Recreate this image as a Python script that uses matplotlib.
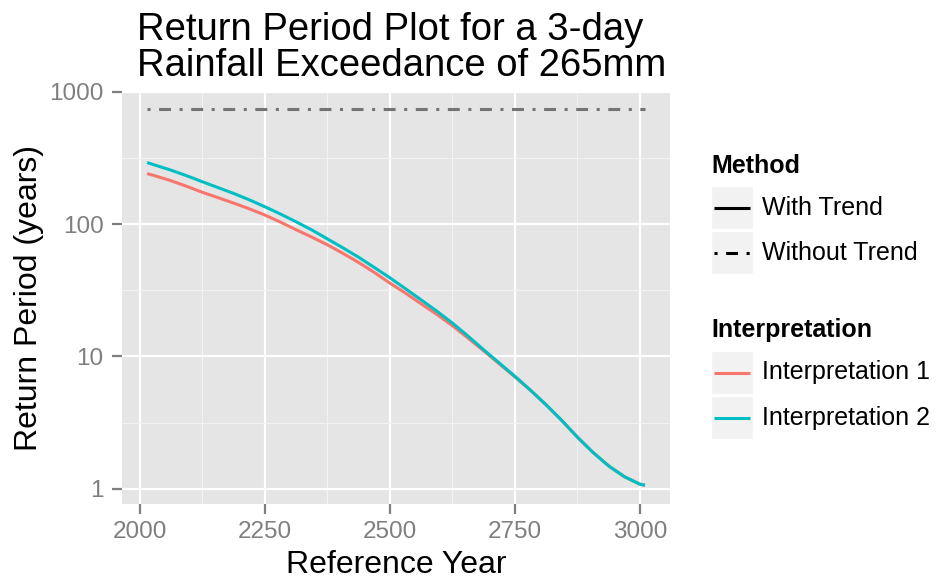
import matplotlib
matplotlib.use("Agg")
import matplotlib.pyplot as plt
from matplotlib.patches import Rectangle
from matplotlib.lines import Line2D
from matplotlib.ticker import FixedLocator, NullFormatter

plt.rcParams['font.family'] = ['Liberation Sans', 'DejaVu Sans']

# Reference years at which the return periods were evaluated
years = [2015, 2031, 2062, 2094, 2125, 2156, 2188, 2219, 2250, 2281,
         2312, 2344, 2375, 2406, 2438, 2469, 2500, 2531, 2562, 2594,
         2625, 2656, 2688, 2719, 2750, 2781, 2812, 2844, 2875, 2906,
         2938, 2969, 3000, 3010]

# Return period (years) with trend, for the two interpretations
interp1 = [241.5, 232.3, 213.8, 193.6, 174.6, 159.2, 144.5, 130.9, 117.5, 104.0,
           91.2, 80.0, 70.0, 60.3, 51.3, 43.2, 35.9, 30.2, 25.1, 20.8,
           17.1, 13.8, 11.0, 8.77, 7.0, 5.56, 4.32, 3.27, 2.45, 1.88,
           1.48, 1.23, 1.08, 1.06]
interp2 = [292.4, 279.9, 257.0, 232.8, 209.9, 189.7, 171.0, 153.1, 135.8, 119.7,
           104.7, 90.6, 77.6, 66.4, 56.2, 47.1, 39.4, 32.6, 26.9, 22.0,
           17.9, 14.3, 11.2, 8.91, 7.08, 5.56, 4.32, 3.27, 2.45, 1.88,
           1.48, 1.23, 1.08, 1.06]

# Stationary (no trend) return period
no_trend_value = 750.0
no_trend_years = [2015, 3010]

x_ticks = [2000, 2250, 2500, 2750, 3000]
y_ticks = [1, 10, 100, 1000]
y_tick_labels = ["1", "10", "100", "1000"]

RED = "#F8766D"
CYAN = "#00BFC4"
GREY_LINE = "#747474"
TICK_GREY = "#7F7F7F"

W, H = 938, 582
fig = plt.figure(figsize=(W / 100, H / 100), dpi=100)


def fx(px):
    return px / W


def fy(py):
    return 1 - py / H


# panel
left, right, top, bottom = 122, 670, 92, 504
ax = fig.add_axes([fx(left), fy(bottom), fx(right - left), (bottom - top) / H])
ax.set_facecolor("#E5E5E5")
ax.set_yscale("log")
ax.set_xlim(1965, 3060)
ax.set_ylim(0.765, 1000)

for s in ax.spines.values():
    s.set_visible(False)

# grid
ax.xaxis.set_major_locator(FixedLocator(x_ticks))
ax.xaxis.set_minor_locator(FixedLocator([2125, 2375, 2625, 2875]))
ax.yaxis.set_major_locator(FixedLocator(y_ticks))
ax.yaxis.set_minor_locator(FixedLocator([10 ** 0.5, 10 ** 1.5, 10 ** 2.5]))
ax.yaxis.set_minor_formatter(NullFormatter())
ax.set_yticklabels(y_tick_labels)
ax.set_xticklabels([str(v) for v in x_ticks])
ax.grid(which="major", color="white", linewidth=1.6)
ax.grid(which="minor", color="#F2F2F2", linewidth=0.8)
ax.set_axisbelow(True)

ax.tick_params(which="major", length=7.2, width=1.6, color=TICK_GREY,
               labelcolor=TICK_GREY, labelsize=17.5)
ax.tick_params(axis="x", pad=5)
ax.tick_params(axis="y", pad=6)
ax.tick_params(which="minor", length=0)

LW = 2.2
dash_pattern = (0, (1.0, 2.8, 3.9, 2.8))

ax.plot(no_trend_years, [no_trend_value, no_trend_value], color=GREY_LINE,
        linewidth=LW, linestyle=dash_pattern, dash_capstyle="butt")
ax.plot(years, interp1, color=RED, linewidth=LW, solid_capstyle="butt",
        solid_joinstyle="round")
ax.plot(years, interp2, color=CYAN, linewidth=LW, solid_capstyle="butt",
        solid_joinstyle="round")

ax.set_xlabel("Reference Year", fontsize=23, labelpad=5)
ax.set_ylabel("Return Period (years)", fontsize=23, labelpad=4)

# title, two lines sharing a left edge
title_x = fx(137)
fig.text(title_x, fy(40), "Return Period Plot for a 3-day", ha="left",
         va="baseline", fontsize=27.5)
fig.text(title_x, fy(76), "Rainfall Exceedance of 265mm", ha="left",
         va="baseline", fontsize=27.5)

# legends
def key_box(y0, y1):
    fig.add_artist(Rectangle((fx(711), fy(y1)), fx(753) - fx(711), (y1 - y0) / H,
                             transform=fig.transFigure, facecolor="#F2F2F2",
                             edgecolor="white", linewidth=1.0))


def key_line(yc, color, style="-"):
    fig.add_artist(Line2D([fx(714), fx(750)], [fy(yc), fy(yc)],
                          transform=fig.transFigure, color=color, linewidth=LW,
                          linestyle=style, solid_capstyle="butt",
                          dash_capstyle="butt"))


def key_text(yc, s):
    fig.text(fx(762), fy(yc), s, ha="left", va="center", fontsize=18)


fig.text(fx(711), fy(173), "Method", ha="left", va="baseline", fontsize=18,
         fontweight="bold")
key_box(186, 229)
key_box(231, 274)
key_line(207.5, "black")
key_line(252.5, "black", dash_pattern)
key_text(207.5, "With Trend")
key_text(252.5, "Without Trend")

fig.text(fx(711), fy(337), "Interpretation", ha="left", va="baseline",
         fontsize=18, fontweight="bold")
key_box(351, 394)
key_box(396, 439)
key_line(372.5, RED)
key_line(417.5, CYAN)
key_text(372.5, "Interpretation 1")
key_text(417.5, "Interpretation 2")

fig.savefig("out.png", dpi=100, facecolor="white")
